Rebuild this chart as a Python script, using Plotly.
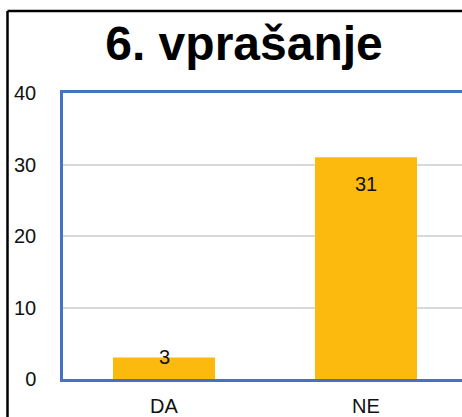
import plotly.graph_objects as go

categories = ["DA", "NE"]
values = [3, 31]
y_ticks = [0, 10, 20, 30, 40]
title_text = "6. vprašanje"

FONT = "Liberation Sans, Arial, sans-serif"
W, H = 462, 417
L, T, B = 63, 93, 38
plot_w = W - L
cat_px = 202
x_max = -0.5 + plot_w / cat_px

fig = go.Figure()
fig.add_trace(go.Bar(
    x=categories, y=values,
    width=0.505,
    marker=dict(color="#FBBA0D", line=dict(width=0)),
    hoverinfo="skip",
))

label_shift = [1, -27]
for c, v, s in zip(categories, values, label_shift):
    fig.add_annotation(x=c, y=v, text=str(v), showarrow=False,
                       yanchor="middle", yshift=s,
                       font=dict(family=FONT, size=20, color="#111111"))

plot_h = H - T - B
# outer chart border (black), partially cropped
bx = (7.5 - L) / plot_w
by = (H - B - 11) / plot_h
fig.add_shape(type="line", xref="paper", yref="paper", x0=bx, x1=bx, y0=-0.2, y1=by,
              line=dict(color="black", width=2.5))
fig.add_shape(type="line", xref="paper", yref="paper", x0=bx, x1=1.3, y0=by, y1=by,
              line=dict(color="black", width=2.5))

fig.update_layout(
    width=W, height=H,
    margin=dict(l=L, r=0, t=T, b=B, pad=0, autoexpand=False),
    paper_bgcolor="white", plot_bgcolor="white",
    showlegend=False,
    title=dict(text="<b>%s</b>" % title_text, x=244 / W, xanchor="center",
               xref="container", y=1 - 43 / H, yanchor="middle", yref="container",
               automargin=False,
               font=dict(family=FONT, size=48, color="black")),
    xaxis=dict(range=[-0.5, x_max], showline=True, mirror=True, automargin=False,
               linecolor="#4472C4", linewidth=2.5, showgrid=False, ticks="",
               ticklabelstandoff=7,
               tickfont=dict(family=FONT, size=20, color="#111111")),
    yaxis=dict(range=[0, 40], tickvals=y_ticks, showline=True, mirror=False,
               automargin=False,
               linecolor="#4472C4", linewidth=2.5, showgrid=True,
               gridcolor="#D9D9D9", gridwidth=1.5, zeroline=False, ticks="",
               ticklabelstandoff=20,
               tickfont=dict(family=FONT, size=20, color="#111111")),
)

fig.write_html("out.html", config={"displayModeBar": False},
               post_script="document.body.style.margin='0';document.body.style.padding='0';")
